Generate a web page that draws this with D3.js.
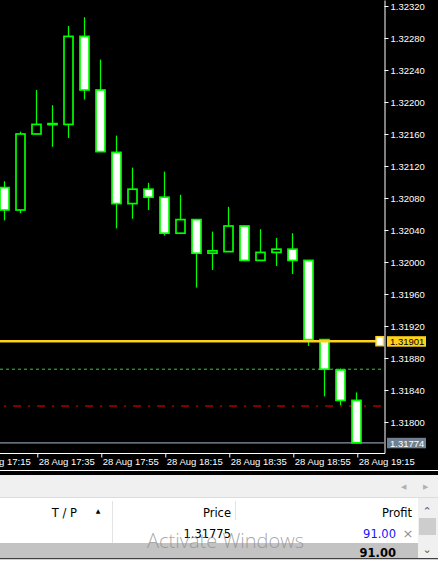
<!DOCTYPE html>
<html>
<head>
<meta charset="utf-8">
<script src="https://cdn.jsdelivr.net/npm/d3@7"></script>
<style>
  body { margin: 0; background: #fff; overflow: hidden; }
  svg { display: block; }
  text { font-family: "Liberation Sans", Arial, sans-serif; }
</style>
</head>
<body>
<svg id="canvas" width="438" height="561"></svg>
<script>
// M5 candles, 28 Aug
let times  = ["17:25","17:30","17:35","17:40","17:45","17:50","17:55","18:00","18:05","18:10","18:15","18:20",
              "18:25","18:30","18:35","18:40","18:45","18:50","18:55","19:00","19:05","19:10","19:15"];
let opens  = [1.32093,1.32065,1.32160,1.32172,1.32172,1.32282,1.32215,1.32137,1.32073,1.32091,1.32081,1.32036,
              1.32053,1.32011,1.32013,1.32045,1.32002,1.32012,1.32016,1.32002,1.31903,1.31865,1.31827];
let highs  = [1.32101,1.32163,1.32215,1.32196,1.32295,1.32306,1.32253,1.32158,1.32118,1.32099,1.32113,1.32084,
              1.32053,1.32038,1.32069,1.32046,1.32041,1.32030,1.32036,1.32002,1.31903,1.31867,1.31837];
let lows   = [1.32052,1.32061,1.32160,1.32144,1.32155,1.32203,1.32138,1.32042,1.32054,1.32065,1.32033,1.32036,
              1.31968,1.31990,1.32013,1.32002,1.32002,1.31995,1.31985,1.31895,1.31832,1.31821,1.31773];
let closes = [1.32065,1.32160,1.32172,1.32173,1.32282,1.32215,1.32138,1.32073,1.32091,1.32081,1.32036,1.32053,
              1.32011,1.32014,1.32045,1.32002,1.32012,1.32016,1.32002,1.31903,1.31866,1.31827,1.31774];

let priceTicks = [1.31800,1.31840,1.31880,1.31920,1.31960,1.32000,1.32040,1.32080,1.32120,1.32160,1.32200,1.32240,1.32280,1.32320];
let timeTicks  = ["17:15","17:35","17:55","18:15","18:35","18:55","19:15"];

let tpLevel = 1.31901;   // yellow
let slLevel1 = 1.31866;  // green dashed
let slLevel2 = 1.31820;  // red dash-dot
let bidLevel = 1.31774;  // grey

let parseTime = d3.utcParse("%d %b %Y %H:%M");
let t = (s) => parseTime("28 Aug 2018 " + s);

let canvas = d3.select('#canvas');

let plotW = 384, plotH = 453;

let x = d3.scaleUtc()
    .domain([t("17:35"), t("19:15")])
    .range([37.3, 357.3]);

let y = d3.scaleLinear()
    .domain([1.3176125, 1.323275])
    .range([plotH, 0]);

// chart background
canvas.append('rect').attr('width', 438).attr('height', 475).attr('fill', '#000');

let plot = canvas.append('g');
plot.append('clipPath').attr('id', 'clip')
    .append('rect').attr('width', plotW).attr('height', plotH);
let inner = plot.append('g').attr('clip-path', 'url(#clip)');

let candles = times.map((s, i) => ({time: t(s), o: opens[i], h: highs[i], l: lows[i], c: closes[i]}));

// level lines
inner.append('line').attr('x1', 0).attr('x2', plotW)
    .attr('y1', y(slLevel1)).attr('y2', y(slLevel1))
    .attr('stroke', '#33cc33').attr('stroke-width', 1).attr('stroke-dasharray', '3,3');
inner.append('line').attr('x1', 0).attr('x2', plotW)
    .attr('y1', y(slLevel2)).attr('y2', y(slLevel2))
    .attr('stroke', '#f00').attr('stroke-width', 1)
    .attr('stroke-dasharray', '8,7,2,7').attr('stroke-dashoffset', 11);
inner.append('line').attr('x1', 0).attr('x2', plotW)
    .attr('y1', y(bidLevel)).attr('y2', y(bidLevel))
    .attr('stroke', '#8794a8').attr('stroke-width', 1.2);

let block = inner.selectAll('g.candle')
    .data(candles)
    .enter()
    .append('g')
    .attr('class', 'candle');

block.append('line')
    .attr('x1', (d) => Math.round(x(d.time)) - 0.5)
    .attr('x2', (d) => Math.round(x(d.time)) - 0.5)
    .attr('y1', (d) => y(d.h))
    .attr('y2', (d) => y(d.l))
    .attr('stroke', '#00ff00')
    .attr('stroke-width', 1.2);

block.append('rect')
    .attr('x', (d) => Math.round(x(d.time)) - 5)
    .attr('y', (d) => y(Math.max(d.o, d.c)))
    .attr('width', 9)
    .attr('height', (d) => Math.max(1, Math.abs(y(d.o) - y(d.c))))
    .attr('fill', (d) => d.c >= d.o ? '#000' : '#fff')
    .attr('stroke', '#00ff00')
    .attr('stroke-width', 1.7);

// yellow line on top of candles
inner.append('line').attr('x1', 0).attr('x2', 376)
    .attr('y1', y(tpLevel)).attr('y2', y(tpLevel))
    .attr('stroke', '#ffd21a').attr('stroke-width', 2.6);
canvas.append('rect').attr('x', 376).attr('y', y(tpLevel) - 4.5)
    .attr('width', 7.5).attr('height', 9)
    .attr('fill', '#fff').attr('stroke', '#ffd21a').attr('stroke-width', 1.5);

// axes
let yAxis = d3.axisRight(y)
    .tickValues(priceTicks)
    .tickFormat(d3.format('.5f'))
    .tickSize(4)
    .tickSizeOuter(0);
let gy = canvas.append('g').attr('transform', 'translate(' + (plotW + 0.5) + ',0)').call(yAxis);
gy.select('.domain').attr('stroke', '#fff');
gy.selectAll('.tick line').attr('stroke', '#fff');
gy.selectAll('.tick text').attr('fill', '#fff').attr('x', 6)
    .style('font-size', '9.5px').style('font-family', '"Liberation Sans", Arial, sans-serif');

let xAxis = d3.axisBottom(x)
    .tickValues(timeTicks.map(t))
    .tickFormat(d3.utcFormat('%d %b %H:%M'))
    .tickSize(4)
    .tickSizeOuter(0);
let gx = canvas.append('g').attr('transform', 'translate(0,' + (plotH + 0.5) + ')').call(xAxis);
gx.select('.domain').attr('stroke', '#fff').attr('d', 'M0,0H' + (plotW + 1));
gx.selectAll('.tick line').attr('stroke', '#fff');
gx.selectAll('.tick text').attr('fill', '#fff')
    .attr('text-anchor', 'start').attr('x', 1).attr('y', 5).attr('dy', '0.71em')
    .style('font-size', '9.5px').style('font-family', '"Liberation Sans", Arial, sans-serif');

// price labels on the axis
let priceLabel = (value, fill, color) => {
    canvas.append('rect').attr('x', 387).attr('y', y(value) - 5)
        .attr('width', 39).attr('height', 10.5).attr('fill', fill);
    canvas.append('text').attr('x', 390).attr('y', y(value) + 0.5).attr('dy', '0.35em')
        .attr('fill', color).style('font-size', '9.5px').text(d3.format('.5f')(value));
};
priceLabel(tpLevel, '#ffd21a', '#000');
priceLabel(bidLevel, '#708090', '#fff');

// window border under the chart
canvas.append('line').attr('x1', 0).attr('x2', 438).attr('y1', 470.5).attr('y2', 470.5)
    .attr('stroke', '#fff').attr('stroke-width', 1);

// terminal panel
let panel = canvas.append('g');
panel.append('rect').attr('x', 0).attr('y', 475).attr('width', 438).attr('height', 22).attr('fill', '#f0f0f0');
panel.append('line').attr('x1', 0).attr('x2', 438).attr('y1', 497.5).attr('y2', 497.5).attr('stroke', '#dcdcdc');
panel.append('text').attr('x', 403).attr('y', 489).attr('text-anchor', 'middle')
    .attr('fill', '#b0b0b0').style('font-size', '7px').text('◀');
panel.append('text').attr('x', 425).attr('y', 489).attr('text-anchor', 'middle')
    .attr('fill', '#b0b0b0').style('font-size', '7px').text('▶');

panel.append('rect').attr('x', 0).attr('y', 498).attr('width', 418).attr('height', 45).attr('fill', '#fff');
panel.append('line').attr('x1', 112.5).attr('x2', 112.5).attr('y1', 501).attr('y2', 543).attr('stroke', '#e3e3e3');
panel.append('line').attr('x1', 235.5).attr('x2', 235.5).attr('y1', 501).attr('y2', 520).attr('stroke', '#e3e3e3');

let panelText = (px, py, s, opts) => {
    let el = panel.append('text').attr('x', px).attr('y', py)
        .attr('text-anchor', opts.anchor || 'end')
        .attr('fill', opts.fill || '#000')
        .style('font-size', (opts.size || 11.5) + 'px')
        .style('font-family', '"DejaVu Sans", "Liberation Sans", sans-serif')
        .text(s);
    if (opts.bold) el.style('font-weight', 'bold');
    return el;
};
panelText(77, 517, 'T / P', {});
panelText(98, 513, '▲', {anchor: 'middle', size: 6});
panelText(231, 517, 'Price', {});
panelText(412, 517, 'Profit', {});
panelText(231, 538, '1.31775', {});
panelText(396, 538, '91.00', {fill: '#1515ff'});
panelText(408, 538, '×', {anchor: 'middle', fill: '#909090', size: 13});

panel.append('rect').attr('x', 0).attr('y', 543).attr('width', 418).attr('height', 15).attr('fill', '#c3c3c3');
panelText(396, 557, '91.00', {bold: true});
panel.append('rect').attr('x', 0).attr('y', 558).attr('width', 438).attr('height', 1.5).attr('fill', '#404040');
panel.append('rect').attr('x', 0).attr('y', 559.5).attr('width', 438).attr('height', 2).attr('fill', '#fff');

// scrollbar
panel.append('rect').attr('x', 418).attr('y', 498).attr('width', 20).attr('height', 60).attr('fill', '#f0f0f0');
panel.append('rect').attr('x', 419).attr('y', 518).attr('width', 17).attr('height', 17).attr('fill', '#cdcdcd');
panelText(427, 515, '⌃', {anchor: 'middle', fill: '#606060', size: 11});
panelText(427, 553, '⌄', {anchor: 'middle', fill: '#606060', size: 11});

// watermark
canvas.append('text').attr('x', 147).attr('y', 548)
    .attr('fill', 'rgba(140,140,140,0.75)')
    .style('font-size', '20px').style('font-family', '"Open Sans", sans-serif').style('font-weight', '300')
    .text('Activate Windows');
</script>
</body>
</html>
